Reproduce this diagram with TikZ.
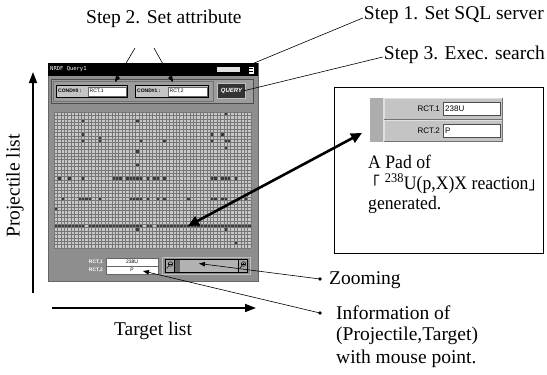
\documentclass[tikz,border=0pt]{standalone}
\usepackage{fontspec}
\setmainfont{Liberation Serif}
\setsansfont{Liberation Sans}
\newfontfamily\cjk{Noto Sans CJK JP}
\newfontfamily\uimono{DejaVu Sans Mono}
\usetikzlibrary{arrows.meta}
\definecolor{winGrey}{HTML}{8E8E8E}
\definecolor{panelGrey}{HTML}{9C9C9C}
\definecolor{gridFill}{HTML}{C8C8C8}
\definecolor{gridLine}{HTML}{767676}
\definecolor{cellDark}{HTML}{3A3A3A}
\definecolor{btnGrey}{HTML}{C4C4C4}
\tikzset{
  leader/.style={line width=0.6pt},
  leadarrow/.style={line width=0.6pt,-{Triangle[length=6pt,width=4.5pt]}},
  axisarrow/.style={line width=1.6pt,-{Triangle[length=11pt,width=8pt]}},
  bigtext/.style={font=\fontsize{19.5}{22}\selectfont,inner sep=0pt},
  padtext/.style={font=\fontsize{19}{22}\selectfont,inner sep=0pt},
  steptext/.style={font=\fontsize{19.5}{22}\selectfont,inner sep=1pt},
  uitext/.style={font=\fontsize{5}{6}\selectfont\sffamily\bfseries,inner sep=0pt},
  field/.style={fill=white,draw=black!60,line width=0.3pt,inner sep=0pt,anchor=north west},
  cell/.style={fill=cellDark}
}
\newcommand\narrow[1]{\scalebox{0.93}[1]{#1}}
\def\cw{3.3966}
\def\ch{3.4}
\begin{document}
\begin{tikzpicture}[x=1pt,y=-1pt]
\useasboundingbox[fill=white] (0,0) rectangle (547,375);

% ---------- query window ----------
\node[fill=winGrey,draw=black!60,line width=0.4pt,minimum width=210pt,minimum height=218pt,anchor=north west,inner sep=0pt] (win) at (48,63) {};
\fill[black] (48,63) rectangle (258,76);
\node[anchor=west,text=white,font=\fontsize{5.5}{6}\selectfont\uimono,inner sep=0pt] (title) at (50,69.5) {NRDF Query1};
\node[fill=black!12,minimum width=23pt,minimum height=5pt,inner sep=0pt] (srv) at (228.5,69.5) {};
\node[fill=white,draw=black,line width=0.4pt,minimum width=6.5pt,minimum height=8pt,inner sep=0pt] (menu) at (251,70) {};
\draw[line width=0.5pt] (248.8,68.5) -- (253.2,68.5) (248.8,71.5) -- (253.2,71.5);

% control panel
\draw[fill=panelGrey,draw=black!70,line width=0.5pt] (51,79) rectangle (253,103);
\draw[draw=black!55,line width=0.8pt] (53,81) rectangle (213,101);
\draw[fill=btnGrey,draw=black,line width=0.8pt] (56,85) rectangle (127,97);
\node[uitext,anchor=west] (c0lab) at (58,91) {COND\#0 :};
\node[field,minimum width=38pt,minimum height=9pt] (f0) at (88,86.5) {};
\node[uitext,font=\fontsize{5}{6}\selectfont\sffamily,anchor=west] (f0txt) at (89.5,91) {RCT,1};
\draw[fill=btnGrey,draw=black,line width=0.8pt] (135,85) rectangle (208,97);
\node[uitext,anchor=west] (c1lab) at (137,91) {COND\#1 :};
\node[field,minimum width=39pt,minimum height=9pt] (f1) at (168,86.5) {};
\node[uitext,font=\fontsize{5}{6}\selectfont\sffamily,anchor=west] (f1txt) at (169.5,91) {RCT,2};
\node[fill=black!80,draw=black!25,line width=1pt,minimum width=28pt,minimum height=15pt,inner sep=0pt] (query) at (231.5,91) {};
\node[text=white,font=\fontsize{6}{6}\selectfont\sffamily\bfseries\itshape,inner sep=0pt] (qtxt) at (231.5,91) {QUERY};

% reaction grid
\fill[gridFill] (54,112) rectangle (251,248);
\foreach \c/\r in {50/0,8/2,24/2,8/6,46/6,49/6,13/7,13/8,8/8,25/8,32/8,46/8,50/8,51/8,50/10,24/11,24/15,
  1/19,4/19,8/19,17/19,18/19,19/19,21/19,22/19,23/19,24/19,25/19,27/19,29/19,30/19,32/19,46/19,47/19,49/19,50/19,51/19,53/19,
  2/25,7/25,8/25,9/25,10/25,13/25,22/25,23/25,24/25,25/25,27/25,30/25,32/25,39/25,46/25,47/25,49/25,50/25,56/25,
  0/28,24/34,50/34,53/38}
  \fill[cell] ({54+\c*\cw},{112+\r*\ch}) rectangle ++(\cw,\ch);
\foreach \c in {0,...,8,10,11,...,25,27,28,30,31,...,57}
  \fill[cell] ({54+\c*\cw},{112+33*\ch}) rectangle ++(\cw,\ch);
\foreach \i in {0,...,58} \draw[gridLine,line width=0.4pt] ({54+\i*\cw},112) -- ++(0,136);
\foreach \j in {0,...,40} \draw[gridLine,line width=0.4pt] (54,{112+\j*\ch}) -- ++(197,0);

% pointer information
\node[uitext,text=white,anchor=east] (r1lab) at (103,262) {RCT,1};
\node[uitext,text=white,anchor=east] (r2lab) at (103,270) {RCT,2};
\node[field,minimum width=52pt,minimum height=8pt] (p1) at (106,258) {};
\node[field,minimum width=52pt,minimum height=8pt] (p2) at (106,266) {};
\node[uitext,font=\fontsize{5}{6}\selectfont\sffamily] (p1txt) at (132,262) {238U};
\node[uitext,font=\fontsize{5}{6}\selectfont\sffamily] (p2txt) at (132,270) {P};

% zoom bar
\draw[fill=black!45,draw=black!25,line width=0.6pt] (162,257) rectangle (250,274);
\fill[black!30] (180,259) rectangle (238,272);
\fill[black!60] (174,259) rectangle (180,272);
\node[fill=black!35,draw=black,line width=0.6pt,minimum width=9pt,minimum height=13pt,inner sep=0pt,anchor=north west] (zl) at (165,259) {};
\node[fill=black!35,draw=black,line width=0.6pt,minimum width=9pt,minimum height=13pt,inner sep=0pt,anchor=north west] (zr) at (238,259) {};
\draw[black,line width=1pt] (165,259) rectangle (247,272);
\draw[line width=0.5pt] (170.5,264) circle (2.3) (168.8,265.8) -- (166.8,268.5);
\draw[line width=0.5pt] (243.5,264) circle (2.3) (241.8,265.8) -- (239.8,268.5);
\draw[line width=0.4pt] (169.3,264) -- (171.7,264);
\draw[line width=0.4pt] (242.3,264) -- (244.7,264) (243.5,262.8) -- (243.5,265.2);

% ---------- axes ----------
\coordinate (ybot) at (33,293);
\coordinate (ytop) at (33,72);
\draw[axisarrow] (ybot) -- (ytop);
\node[bigtext,rotate=90] (proj) at (15,186) {Projectile list};
\coordinate (xl) at (52,308);
\coordinate (xr) at (256,308);
\draw[axisarrow] (xl) -- (xr);
\node[bigtext] (targ) at (153,331) {Target list};

% ---------- step labels ----------
\node[steptext,anchor=west] (s2) at (85,19) {Step 2. Set attribute};
\coordinate (s2a) at (135,48);
\coordinate (s2b) at (154,48);
\coordinate (t0) at (115,82);
\coordinate (t1) at (173,82);
\draw[leadarrow] (s2a) -- (t0);
\draw[leadarrow] (s2b) -- (t1);
\node[steptext,anchor=east] (s1) at (545,15) {Step 1. Set SQL server};
\draw[leader] ([yshift=-3pt]s1.west) -- (menu.north west);
\node[steptext,anchor=east] (s3) at (546,55) {Step 3. Exec. search};
\draw[leader] ([yshift=-2pt]s3.west) -- ([xshift=-3pt]query.east);

% ---------- generated pad ----------
\node[draw=black,line width=1.3pt,minimum width=209pt,minimum height=166pt,inner sep=0pt,anchor=north west] (pad) at (334,87) {};
\fill[btnGrey] (370,98) rectangle (503,142);
\fill[black!32] (370,98) rectangle (383,142);
\foreach \y/\n/\v/\nm in {98/RCT.1/238U/a,120/RCT.2/P/b}{
  \fill[black!12] (383,\y) rectangle (503,\y+22);
  \fill[black!55] (384,\y+21) rectangle (503,\y+22);
  \fill[black!55] (502,\y) rectangle (503,\y+22);
  \fill[btnGrey] (384.5,\y+1) rectangle (501.5,\y+20.5);
  \node[field,draw=black!70,minimum width=57pt,minimum height=13pt] (pf\nm) at (443,\y+4) {};
  \node[anchor=east,inner sep=0pt,font=\fontsize{8}{9}\selectfont\sffamily] (pl\nm) at (440,\y+10.5) {\n};
  \node[anchor=west,inner sep=0pt,font=\fontsize{8}{9}\selectfont\sffamily] (pv\nm) at (445,\y+10.5) {\v};
}
\node[padtext,anchor=west] (pad1) at (368,162) {\narrow{A Pad of}};
\node[padtext,anchor=west] (pad2) at (364,183.5) {\narrow{{\cjk\fontsize{17}{17}\selectfont 「}\;\textsuperscript{238}U(p,X)X reaction{\cjk\fontsize{17}{17}\selectfont 」}}};
\node[padtext,anchor=west] (pad3) at (368,205) {\narrow{generated.}};

\coordinate (gridpt) at (188,226);
\coordinate (padpt) at (362,133);
\draw[line width=2.6pt,{Triangle[length=11pt,width=10pt]}-{Triangle[length=11pt,width=10pt]}] (gridpt) -- (padpt);

% ---------- bullets ----------
\coordinate (bz) at (320,279);
\coordinate (bi) at (320,313);
\fill (bz) circle (1.8pt);
\fill (bi) circle (1.8pt);
\coordinate (ztip) at (199,263.5);
\coordinate (itip) at (143,271);
\draw[leadarrow] (bz) -- (ztip);
\draw[leadarrow] (bi) -- (itip);
\node[bigtext,anchor=west] (zoomtxt) at (329,280) {Zooming};
\node[bigtext,anchor=west] (info1) at (336,313) {Information of};
\node[bigtext,anchor=west] (info2) at (336,336) {(Projectile,Target)};
\node[bigtext,anchor=west] (info3) at (336,359) {with mouse point.};
\end{tikzpicture}
\end{document}
